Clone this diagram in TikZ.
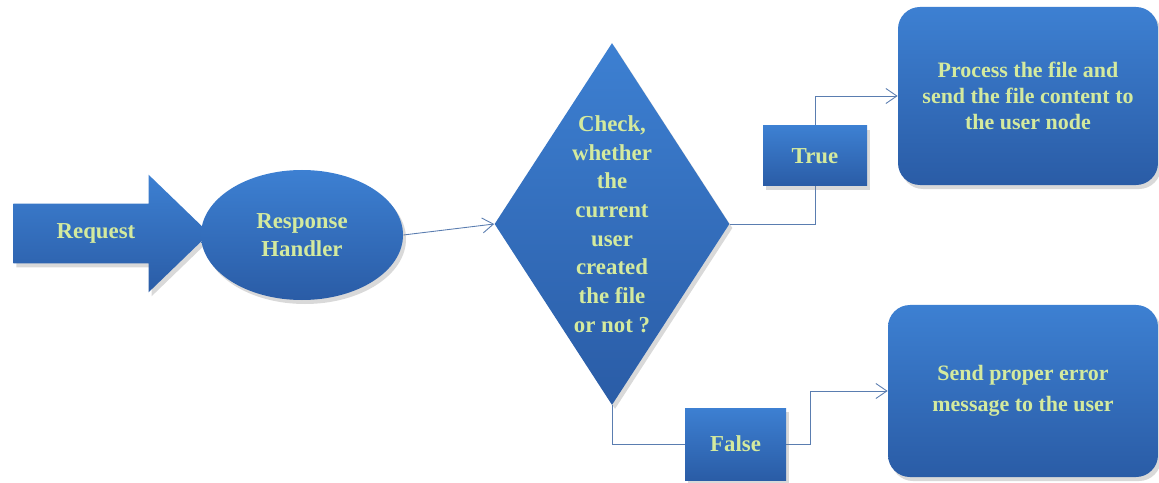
\documentclass[tikz,border=0pt]{standalone}
\usepackage{fontspec}
\setmainfont{Liberation Serif}
\usetikzlibrary{shapes.geometric,shapes.arrows,shadows,backgrounds,arrows.meta}
\definecolor{boxtop}{HTML}{3D80D2}
\definecolor{boxbot}{HTML}{2A5CA6}
\definecolor{lbl}{HTML}{D4EA9E}
\definecolor{linecol}{HTML}{5A7DB0}

\begin{document}
\begin{tikzpicture}[x=0.2mm,y=-0.2mm,
                    blk/.style={top color=boxtop,bottom color=boxbot,draw=none,text=lbl,align=center,inner sep=0pt,
                                font=\bfseries\fontsize{13}{16.3}\selectfont,
                                drop shadow={opacity=0.3,shadow xshift=0.6mm,shadow yshift=-0.8mm}},
                    wire/.style={draw=linecol,line width=0.5pt},
                    tip/.style={-{Straight Barb[length=2.2mm,width=3mm]}}
]
\useasboundingbox (0,0) rectangle (1159,483);

\node [blk, single arrow, single arrow head extend=5.8mm, single arrow tip angle=88,
       text height=3mm, text depth=1mm, inner ysep=3.9mm, inner xsep=1mm, minimum height=39.2mm] at (96,233.5) (req) {Request};
\node [blk, ellipse, minimum width=40.4mm, minimum height=26mm] at (302,235) (rh) {Response\\Handler};
\node [blk, diamond, shape aspect=0.65, minimum width=47mm, minimum height=72.4mm] at (612,224) (chk)
      {Check,\\whether\\the\\current\\user\\created\\the file\\or not ?};
%
\node [blk, minimum width=20.8mm, minimum height=12mm] at (815,156) (tru) {True};
\node [blk, minimum width=20.2mm, minimum height=14.4mm] at (735.5,444) (fls) {False};
%
\node [blk, font=\bfseries\fontsize{12.5}{15}\selectfont, rounded corners=4.4mm,
       minimum width=52mm, minimum height=35.6mm] at (1028,96) (proc)
      {Process the file and\\send the file content to\\the user node};
\node [blk, font=\bfseries\fontsize{12.5}{17.6}\selectfont, rounded corners=4.4mm,
       minimum width=54mm, minimum height=34.4mm] at (1023,391) (err)
      {Send proper error\\message to the user};
%
\begin{scope}[on background layer]
\draw [wire, tip] (rh.east) -- (chk.west);
\draw [wire, tip] (chk.east) -| (tru.center) |- (proc.west);
\draw [wire] (chk.south) |- (fls.west);
\draw [wire, tip] (fls.east) -- ++(24,0) |- (err.west);
\end{scope}
\end{tikzpicture}
\end{document}
